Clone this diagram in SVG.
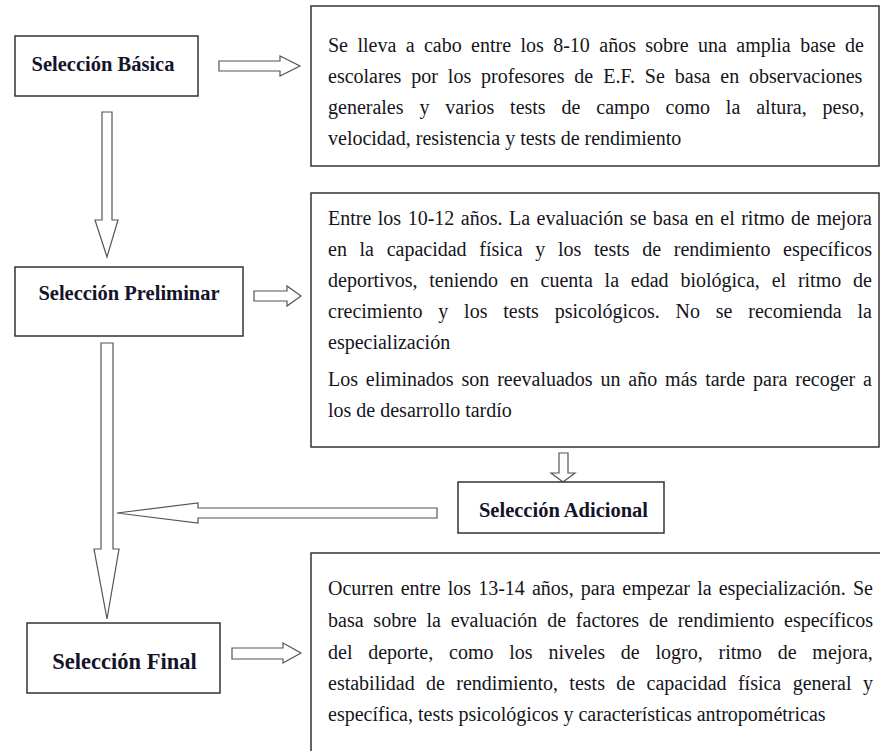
<svg xmlns="http://www.w3.org/2000/svg" width="880" height="751" viewBox="0 0 880 751">
<style>
  .box { fill: #ffffff; stroke: #333333; stroke-width: 1.5; }
  .lbl { font-family: 'Liberation Serif', Tinos, 'Times New Roman', 'DejaVu Serif', serif; font-weight: bold; font-size: 20.5px; fill: #14142a; text-anchor: middle; }
  .txt { font-family: 'Liberation Serif', Tinos, 'Times New Roman', 'DejaVu Serif', serif; font-size: 20px; fill: #151520; }
  .arr { fill: #ffffff; stroke: #555555; stroke-width: 1.2; stroke-linejoin: miter; }
</style>
<rect width="880" height="751" fill="#ffffff"/>

<g id="connectors">
  <polygon class="arr" points="219,61 280,61 280,56 300,66 280,76 280,71 219,71"/>
  <polygon class="arr" points="102,112 112,112 112,220 118,220 107,257 95,220 102,220"/>
  <polygon class="arr" points="254,291 287,291 287,286 301,296 287,306 287,301 254,301"/>
  <polygon class="arr" points="101,343 113,343 113,549 119,549 107,619 94,549 101,549"/>
  <polygon class="arr" points="559,453 568,453 568,473 575,473 563,482 551,473 559,473"/>
  <polygon class="arr" points="437,508 198,508 198,503 117,513 198,523 198,518 437,518"/>
  <polygon class="arr" points="232,648 283,648 283,643 301,653 283,663 283,659 232,659"/>
</g>

<g id="seleccion-basica">
  <rect class="box" x="15" y="36" width="183" height="60"/>
  <text class="lbl" x="103" y="71">Selección Básica</text>
</g>

<g id="desc-basica">
  <rect class="box" x="311" y="6" width="568" height="160"/>
  <text class="txt" x="328" y="52" word-spacing="4.4">Se lleva a cabo entre los 8-10 años sobre una amplia base de</text>
  <text class="txt" x="328" y="83" word-spacing="4.94">escolares por los profesores de E.F. Se basa en observaciones</text>
  <text class="txt" x="328" y="114" word-spacing="10.9">generales y varios tests de campo como la altura, peso,</text>
  <text class="txt" x="328" y="145">velocidad, resistencia y tests de rendimiento</text>
</g>

<g id="seleccion-preliminar">
  <rect class="box" x="15" y="267" width="228" height="69"/>
  <text class="lbl" x="129" y="300">Selección Preliminar</text>
</g>

<g id="desc-preliminar">
  <rect class="box" x="311" y="193" width="568" height="254"/>
  <text class="txt" x="328" y="225" word-spacing="1.5">Entre los 10-12 años. La evaluación se basa en el ritmo de mejora</text>
  <text class="txt" x="328" y="256" word-spacing="7.68">en la capacidad física y los tests de rendimiento específicos</text>
  <text class="txt" x="328" y="287" word-spacing="6.81">deportivos, teniendo en cuenta la edad biológica, el ritmo de</text>
  <text class="txt" x="328" y="318" word-spacing="10.85">crecimiento y los tests psicológicos. No se recomienda la</text>
  <text class="txt" x="328" y="349">especialización</text>
  <text class="txt" x="328" y="386" word-spacing="2.86">Los eliminados son reevaluados un año más tarde para recoger a</text>
  <text class="txt" x="328" y="417">los de desarrollo tardío</text>
</g>

<g id="seleccion-adicional">
  <rect class="box" x="458" y="482" width="206" height="51"/>
  <text class="lbl" x="563.5" y="517">Selección Adicional</text>
</g>

<g id="seleccion-final">
  <rect class="box" x="27" y="623" width="193" height="70"/>
  <text class="lbl" x="124.5" y="669" style="font-size:22.5px">Selección Final</text>
</g>

<g id="desc-final">
  <rect class="box" x="311" y="553" width="580" height="230"/>
  <text class="txt" x="328" y="595" word-spacing="2.12">Ocurren entre los 13-14 años, para empezar la especialización. Se</text>
  <text class="txt" x="328" y="627" word-spacing="4.81">basa sobre la evaluación de factores de rendimiento específicos</text>
  <text class="txt" x="328" y="659" word-spacing="10.8">del deporte, como los niveles de logro, ritmo de mejora,</text>
  <text class="txt" x="328" y="690" word-spacing="6.4">estabilidad de rendimiento, tests de capacidad física general y</text>
  <text class="txt" x="328" y="721">específica, tests psicológicos y características antropométricas</text>
</g>
</svg>
